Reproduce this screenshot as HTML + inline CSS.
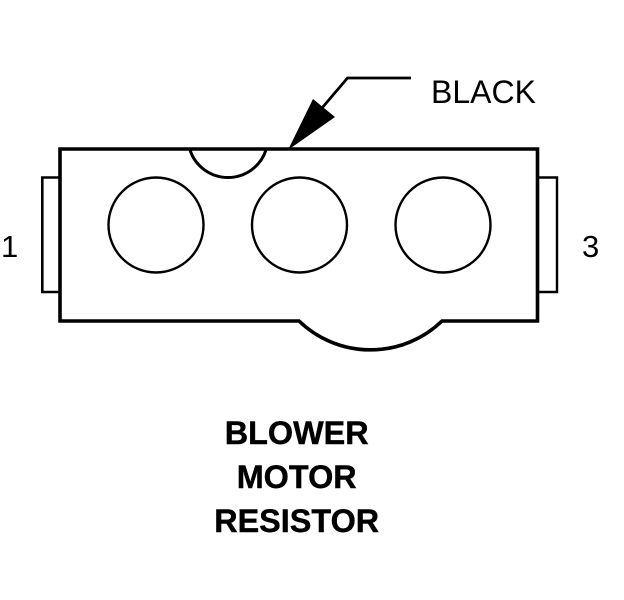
<!DOCTYPE html>
<html>
<head>
<meta charset="utf-8">
<style>
html,body{margin:0;padding:0;background:#fff;}
svg{display:block;}
text{font-family:"Liberation Sans",sans-serif;fill:#000;}
</style>
</head>
<body>
<svg width="624" height="600" viewBox="0 0 624 600" xmlns="http://www.w3.org/2000/svg">
<g fill="none" stroke="#000">
<path d="M60 149H537.5V321H442A103 103 0 0 1 299 321H60Z" stroke-width="3.6"/>
<path d="M190 150A40 40 0 0 0 266 150" stroke-width="3"/>
<circle cx="156" cy="225" r="47.5" stroke-width="2.4"/>
<circle cx="299.5" cy="225" r="47.5" stroke-width="2.4"/>
<circle cx="443" cy="225" r="47.5" stroke-width="2.4"/>
<path d="M60 177.5H42.3V292H60" stroke-width="2.6"/>
<path d="M538 177.5H557V292H538" stroke-width="2.4"/>
<path d="M411 78H347.5L322 108" stroke-width="2.8"/>
</g>
<polygon points="288,150 313,99 335,117" fill="#000"/>
<text x="431" y="103" font-size="32">BLACK</text>
<text x="1" y="257" font-size="31">1</text>
<text x="582" y="257" font-size="31">3</text>
<g font-weight="bold" font-size="32.4" text-anchor="middle" stroke="#000" stroke-width="0.4">
<text x="296.7" y="444">BLOWER</text>
<text x="296.7" y="488">MOTOR</text>
<text x="296.7" y="532">RESISTOR</text>
</g>
</svg>
</body>
</html>
